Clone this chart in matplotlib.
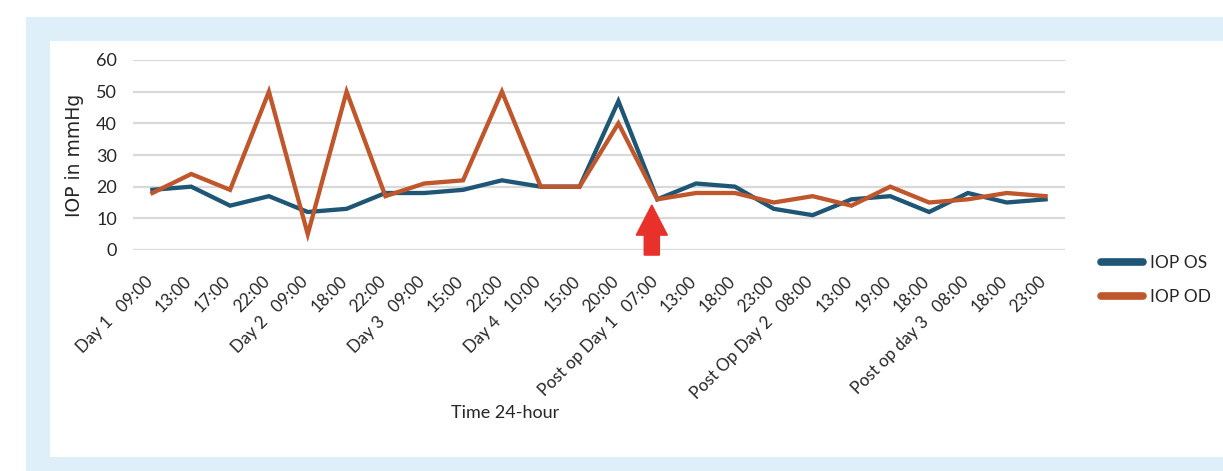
import matplotlib
matplotlib.use("Agg")
import matplotlib.pyplot as plt
from matplotlib.patches import Rectangle, FancyArrow
from matplotlib.transforms import ScaledTranslation

# -------- Data -------- #
time_labels = [
    "Day 1   09:00", "13:00", "17:00", "22:00",
    "Day 2   09:00", "18:00", "22:00",
    "Day 3   09:00", "15:00", "22:00",
    "Day 4   10:00", "15:00", "20:00",
    "Post op Day 1   07:00", "13:00", "18:00", "23:00",
    "Post Op Day 2   08:00", "13:00", "19:00", "18:00",
    "Post op day 3   08:00", "18:00", "23:00",
]
iop_os = [19, 20, 14, 17, 12, 13, 18, 18, 19, 22, 20, 20, 47,
          16, 21, 20, 13, 11, 16, 17, 12, 18, 15, 16]
iop_od = [18, 24, 19, 50, 5, 50, 17, 21, 22, 50, 20, 20, 40,
          16, 18, 18, 15, 17, 14, 20, 15, 16, 18, 17]
surgery_idx = 13  # first post-op reading

# -------- Style -------- #
BLUE = "#1f5675"
ORANGE = "#c0562b"
GRID = "#d9d9d9"
PANEL = "#dfeff9"
TEXT = "#262626"
plt.rcParams['font.family'] = ['Lato', 'DejaVu Sans']

W, H = 1223, 471
fig = plt.figure(figsize=(W / 100, H / 100), dpi=100)
fig.patch.set_facecolor("white")

# light blue frame behind the white chart area
fig.patches.append(Rectangle((26 / W, 0), 1, 1 - 17 / H, transform=fig.transFigure,
                             facecolor=PANEL, edgecolor="none", zorder=-2))
fig.patches.append(Rectangle((50 / W, 14 / H), 1, 1 - 41 / H - 14 / H, transform=fig.transFigure,
                             facecolor="white", edgecolor="none", zorder=-1))

ax = fig.add_axes([133 / W, 1 - 250 / H, (1065 - 133) / W, (250 - 60) / H])
ax.set_facecolor("none")

x = list(range(len(time_labels)))
ax.plot(x, iop_os, color=BLUE, lw=3.1, label="IOP OS", solid_joinstyle="miter", zorder=3)
ax.plot(x, iop_od, color=ORANGE, lw=3.1, label="IOP OD", solid_joinstyle="miter", zorder=4)

ax.set_xlim(-0.5, len(x) - 0.5)
ax.set_ylim(0, 60)
ax.set_yticks(range(0, 61, 10))
ax.yaxis.grid(True, color=GRID, lw=1.6)
ax.set_axisbelow(True)
for s in ax.spines.values():
    s.set_visible(False)
ax.tick_params(length=0, colors=TEXT)
ax.tick_params(axis="y", labelsize=13, pad=11.5)

ax.set_xticks(x)
ax.set_xticklabels(time_labels, rotation=45, ha="right", va="center",
                   rotation_mode="anchor", fontsize=12.2, color=TEXT)
ax.tick_params(axis="x", pad=21)
offset = ScaledTranslation(-0.02, 0, fig.dpi_scale_trans)
for lbl in ax.get_xticklabels():
    lbl.set_transform(lbl.get_transform() + offset)

ax.set_ylabel("IOP in mmHg", fontsize=13.5, color=TEXT,
              family=["DejaVu Sans"], va="center")
ax.yaxis.set_label_coords((74 - 133) / 932, 0.5)
fig.text(505 / W, 1 - 413 / H, "Time 24-hour", ha="center", va="center",
         fontsize=13, color=TEXT)

# red arrow marking the surgery
ax.add_patch(FancyArrow(surgery_idx - 0.14, -1.6, 0, 15.8, width=0.39, head_width=0.8,
                        head_length=9.5, length_includes_head=True,
                        color="#e8312a", clip_on=False, zorder=5))

leg = ax.legend(loc="center left", bbox_to_anchor=(1101 / W, 1 - 280 / H),
                bbox_transform=fig.transFigure, frameon=False, borderpad=0,
                borderaxespad=0, handlelength=2.4, handletextpad=0.42,
                labelspacing=1.0, fontsize=12.5)
for line in leg.get_lines():
    line.set_linewidth(5.5)
    line.set_solid_capstyle("round")
for t in leg.get_texts():
    t.set_color(TEXT)

fig.savefig("out.png", dpi=100, facecolor=fig.get_facecolor())
